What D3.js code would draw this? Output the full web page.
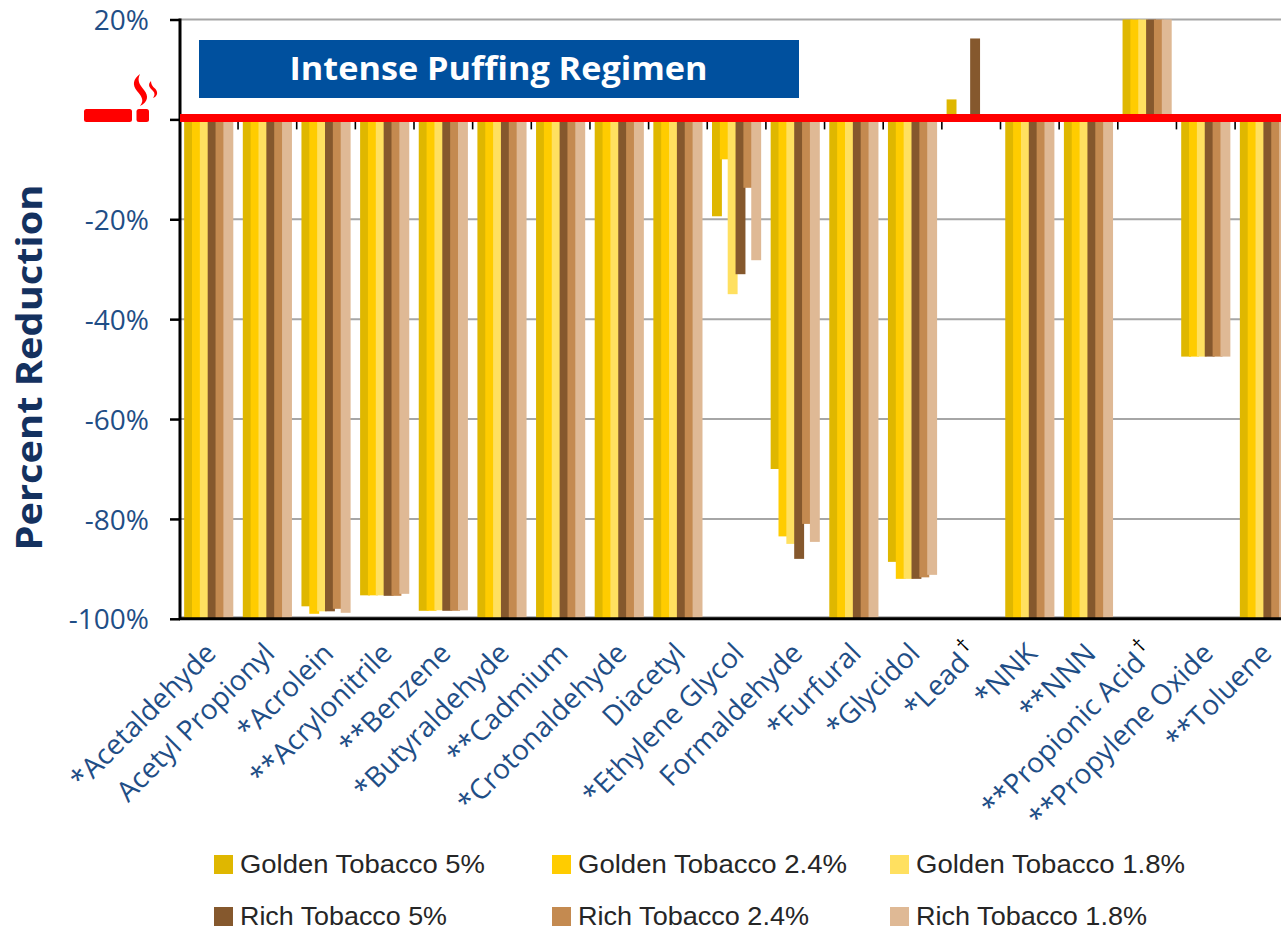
<!DOCTYPE html>
<html><head><meta charset="utf-8">
<style>html,body{margin:0;padding:0;background:#fff;overflow:hidden}svg{display:block}</style>
<script src="https://cdn.jsdelivr.net/npm/d3@7"></script></head>
<body><svg id="c" width="1281" height="930"></svg>
<script>
const categories=["*Acetaldehyde","Acetyl Propionyl","*Acrolein","**Acrylonitrile","**Benzene","*Butyraldehyde","**Cadmium","*Crotonaldehyde","Diacetyl","*Ethylene Glycol","Formaldehyde","*Furfural","*Glycidol","*Lead","*NNK","**NNN","**Propionic Acid","**Propylene Oxide","**Toluene"];
const daggerCats=["*Lead","**Propionic Acid"];
const golden5 =[-100,-100,-97.5,-95.3,-98.4,-100,-100,-100,-100,-19.4,-70,-100,-88.6,4,-100,-100,20,-47.5,-100];
const golden24=[-100,-100,-99,-95.3,-98.4,-100,-100,-100,-100,-8,-83.5,-100,-92,null,-100,-100,20,-47.5,-100];
const golden18=[-100,-100,-98.5,-95.3,-98.3,-100,-100,-100,-100,-35,-85,-100,-92,null,-100,-100,20,-47.5,-100];
const rich5   =[-100,-100,-98.5,-95.4,-98.4,-100,-100,-100,-100,-31,-88,-100,-92,16.2,-100,-100,20,-47.5,-100];
const rich24  =[-100,-100,-98,-95.4,-98.4,-100,-100,-100,-100,-13.7,-81,-100,-91.7,null,-100,-100,20,-47.5,-100];
const rich18  =[-100,-100,-98.8,-95,-98.3,-100,-100,-100,-100,-28.2,-84.6,-100,-91.2,null,-100,-100,20,-47.5,-100];
const seriesNames=["Golden Tobacco 5%","Golden Tobacco 2.4%","Golden Tobacco 1.8%","Rich Tobacco 5%","Rich Tobacco 2.4%","Rich Tobacco 1.8%"];
const seriesValues=[golden5,golden24,golden18,rich5,rich24,rich18];
const seriesColors=["#DFB700","#FFCC00","#FFE060","#85582D","#C48A50","#DFB995"];
const yTicks=[20,0,-20,-40,-60,-80,-100];

const svg=d3.select("#c");
const blue="#1F4E86", font="'Open Sans',sans-serif";
const y=d3.scaleLinear().domain([20,-100]).range([19.5,618.8]);
const x=d3.scaleBand().domain(categories).range([179.4,179.4+58.65*19]);
const barW=9.9, step=7.85;
const inner=d3.scaleBand().domain(d3.range(6)).range([0,step*6]);
const pad=(x.bandwidth()-(step*5+barW))/2;

// gridlines
svg.append("g").selectAll("line").data(yTicks.filter(d=>d!==0)).join("line")
  .attr("x1",180).attr("x2",1281).attr("y1",d=>y(d)-(d===-100?1.5:0)).attr("y2",d=>y(d)-(d===-100?1.5:0))
  .attr("stroke","#A6A6A6").attr("stroke-width",2);

// bars
seriesValues.forEach((vals,s)=>{
  svg.append("g").selectAll("rect").data(vals.map((v,i)=>({v,c:categories[i]})).filter(d=>d.v!==null)).join("rect")
    .attr("x",d=>x(d.c)+pad+inner(s))
    .attr("width",barW)
    .attr("y",d=>Math.min(y(d.v),y(0)))
    .attr("height",d=>Math.abs(y(d.v)-y(0)))
    .attr("fill",seriesColors[s]);
});

// x ticks
svg.append("g").selectAll("line").data(categories.slice(1)).join("line")
  .attr("x1",d=>x(d)).attr("x2",d=>x(d)).attr("y1",y(0)).attr("y2",y(0)+10)
  .attr("stroke","#000").attr("stroke-width",1.6);

// axes
const axisY=d3.axisLeft(y).tickValues(yTicks).tickSize(10).tickFormat(d=>d===0?"":d+"%").tickPadding(21);
const gy=svg.append("g").attr("transform","translate(180,0)").call(axisY);
gy.select(".domain").attr("stroke","#000").attr("stroke-width",3).attr("d",`M0,${y(20)-1}V${y(-100)+1}`);
gy.selectAll(".tick line").attr("stroke","#000").attr("stroke-width",2.5);
gy.selectAll(".tick text").attr("fill",blue).style("font",`28px ${font}`).attr("dy","0.36em");
svg.append("line").attr("x1",179).attr("x2",1281).attr("y1",618.8).attr("y2",618.8).attr("stroke","#000").attr("stroke-width",3);

// zero line
svg.append("line").attr("x1",180).attr("x2",1281).attr("y1",y(0)-1.5).attr("y2",y(0)-1.5).attr("stroke","#FF0000").attr("stroke-width",8);

// cigarette
const cig=svg.append("g").attr("fill","#FF0000");
cig.append("rect").attr("x",84).attr("y",109).attr("width",48).attr("height",13).attr("rx",2.5);
cig.append("rect").attr("x",136.5).attr("y",109).attr("width",12.5).attr("height",13).attr("rx",2.5);
cig.append("path").attr("d","M140,74C133,79 132,85 137,91C141,96 145,100 140,106C148,102 149,96 144,90C139,84 137,80 140,74Z");
cig.append("path").attr("d","M151,81C147,85 150,88 153,91C155,93 155,95 153,98C158,96 158,92 155.5,89C152,86 151,84 151,81Z");

// title
svg.append("rect").attr("x",199).attr("y",40).attr("width",600).attr("height",58).attr("fill","#00509E");
svg.append("text").attr("x",498.5).attr("y",80).attr("text-anchor","middle").attr("fill","#fff")
  .attr("textLength",418).attr("lengthAdjust","spacingAndGlyphs")
  .style("font",`700 32px 'Open Sans',sans-serif`).text("Intense Puffing Regimen");

// y title
svg.append("text").attr("transform","translate(42,367.5) rotate(-90)").attr("text-anchor","middle").attr("fill","#14315F")
  .attr("textLength",366).attr("lengthAdjust","spacingAndGlyphs")
  .style("font",`700 36px 'Open Sans',sans-serif`).text("Percent Reduction");

// category labels
const lab=svg.append("g").selectAll("text").data(categories).join("text")
  .attr("transform",d=>`translate(${x(d)+x.bandwidth()/2+9},655) rotate(-45)`)
  .attr("text-anchor","end").attr("fill",blue).style("font",`28px ${font}`).text(d=>d);
lab.filter(d=>daggerCats.includes(d)).append("tspan").attr("dx",3).attr("dy",-12).attr("fill","#000").style("font-size","20px").text("†");

// legend
const legX=[214,552,890], legY=[865,917];
seriesNames.forEach((n,i)=>{
  const cx=legX[i%3], cy=legY[Math.floor(i/3)];
  svg.append("rect").attr("x",cx).attr("y",cy-10).attr("width",19).attr("height",19).attr("fill",seriesColors[i]);
  svg.append("text").attr("x",cx+26).attr("y",cy+8).attr("fill","#262626")
    .style("font",`26px 'Liberation Sans',sans-serif`).attr("lengthAdjust","spacingAndGlyphs")
    .attr("textLength",[245,269,269,207,231,231][i]).text(n);
});
</script></body></html>
